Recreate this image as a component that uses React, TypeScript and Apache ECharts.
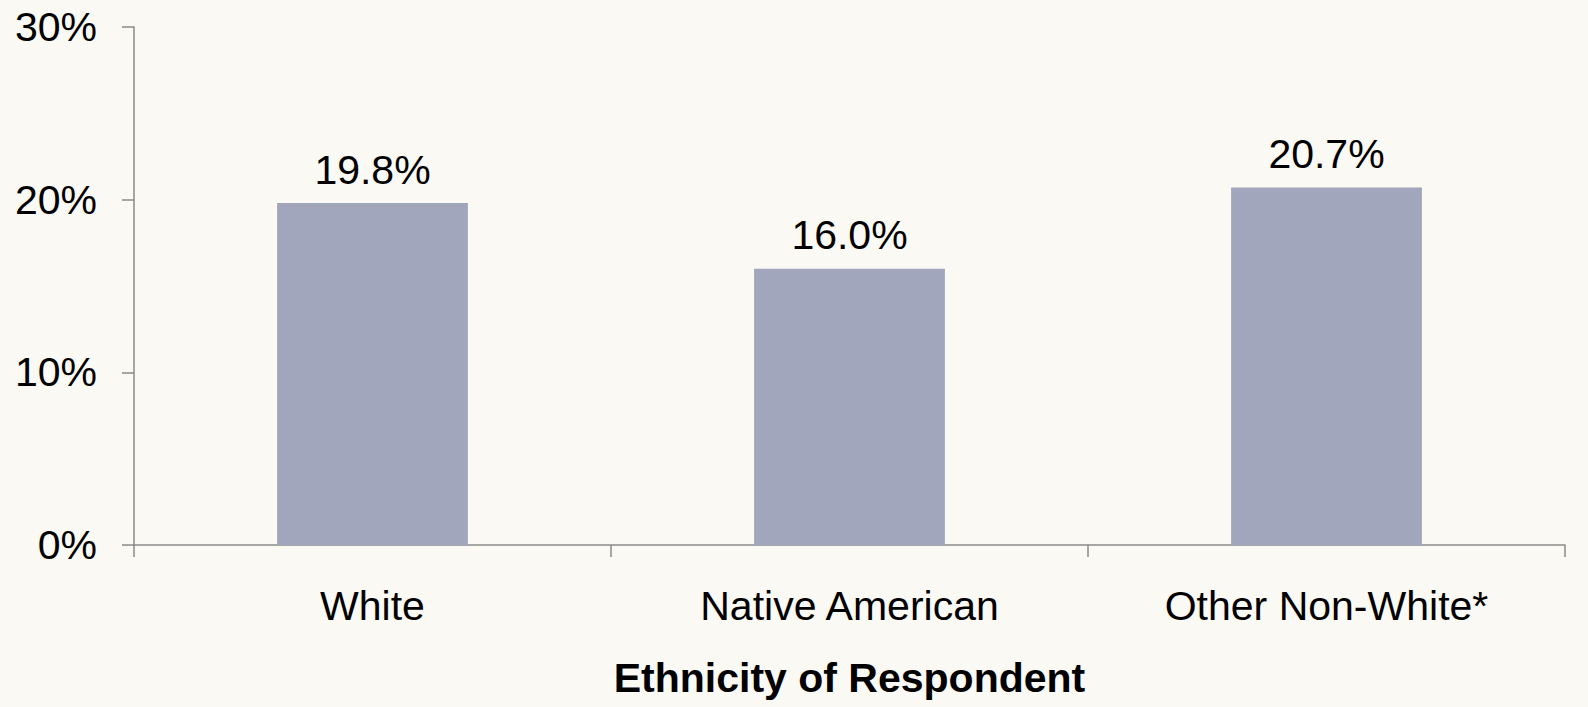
import React, { useEffect, useRef } from "react";
import * as echarts from "echarts";

const categories = ["White", "Native American", "Other Non-White*"];
const values = [19.8, 16.0, 20.7];
const yTicks = [0, 10, 20, 30];
const xAxisTitle = "Ethnicity of Respondent";

const FONT = "Arial, 'Liberation Sans', Helvetica, sans-serif";

export default function App() {
  const ref = useRef<HTMLDivElement>(null);
  useEffect(() => {
    if (!ref.current) return;
    const chart = echarts.init(ref.current, null, { renderer: "svg" });
    chart.setOption({
      animation: false,
      backgroundColor: "#FAF9F4",
      grid: { left: 134, right: 23, top: 27, bottom: 162, containLabel: false },
      xAxis: {
        type: "category",
        data: categories,
        name: xAxisTitle,
        nameLocation: "middle",
        nameGap: 112,
        nameTextStyle: { fontFamily: FONT, fontSize: 41, fontWeight: "bold", color: "#000" },
        axisLine: { show: true, lineStyle: { color: "#8a8a8a", width: 1.5 } },
        axisTick: { show: true, length: 12, alignWithLabel: false, lineStyle: { color: "#8a8a8a", width: 1.5 } },
        axisLabel: { fontFamily: FONT, fontSize: 41, color: "#000", margin: 40 },
      },
      yAxis: {
        type: "value",
        min: yTicks[0],
        max: yTicks[yTicks.length - 1],
        interval: 10,
        splitLine: { show: false },
        axisLine: { show: true, lineStyle: { color: "#8a8a8a", width: 1.5 } },
        axisTick: { show: true, length: 12, lineStyle: { color: "#8a8a8a", width: 1.5 } },
        axisLabel: {
          fontFamily: FONT,
          fontSize: 41,
          color: "#000",
          margin: 37,
          formatter: (v: number) => `${v}%`,
        },
      },
      series: [
        {
          type: "bar",
          data: values,
          barWidth: "40%",
          itemStyle: { color: "#A1A6BC" },
          label: {
            show: true,
            position: "top",
            distance: 13,
            fontFamily: FONT,
            fontSize: 41,
            color: "#000",
            formatter: (p: any) => `${Number(p.value).toFixed(1)}%`,
          },
        },
      ],
    });
    return () => chart.dispose();
  }, []);
  return (
    <div
      ref={ref}
      style={{ position: "fixed", left: 0, top: 0, width: 1588, height: 707 }}
    />
  );
}
